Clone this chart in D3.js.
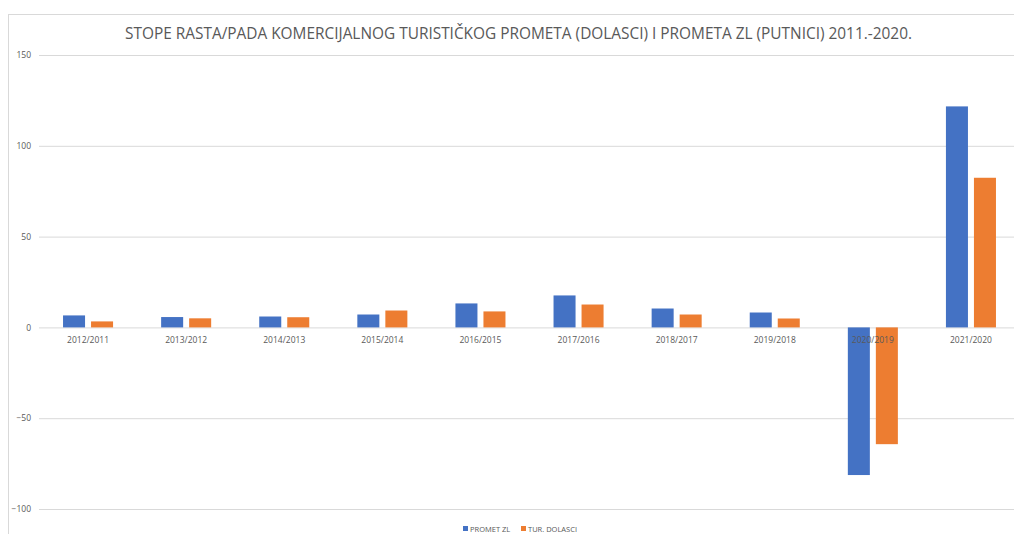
<!DOCTYPE html>
<html>
<head>
<meta charset="utf-8">
<script src="https://cdn.jsdelivr.net/npm/d3@7"></script>
<style>
  body { margin: 0; background: #fff; }
  text { font-family: "Open Sans", sans-serif; fill: #595959; }
</style>
</head>
<body>
<div id="chart"></div>
<script>
// categories and series
const categories = ['2012/2011', '2013/2012', '2014/2013', '2015/2014', '2016/2015',
                    '2017/2016', '2018/2017', '2019/2018', '2020/2019', '2021/2020'];
const prometZL = [6.6, 5.7, 6.0, 7.1, 13.2, 17.6, 10.4, 8.2, -81.3, 121.7];
const turDolasci = [3.3, 5.0, 5.6, 9.3, 8.8, 12.6, 7.1, 4.9, -64.3, 82.4];
const seriesNames = ['PROMET ZL', 'TUR. DOLASCI'];
const yTicks = [-100, -50, 0, 50, 100, 150];

const width = 1014;
const height = 534;
const colors = ['#4472C4', '#ED7D31'];

const svg = d3.select('#chart')
    .append('svg')
    .attr('width', width)
    .attr('height', height);

// chart frame (cut off on the right and bottom)
svg.append('rect')
    .attr('x', 8.5).attr('y', 14.5)
    .attr('width', 1020).attr('height', 540)
    .attr('fill', 'none')
    .attr('stroke', '#d9d9d9');

svg.append('text')
    .attr('x', 518.5).attr('y', 39)
    .attr('text-anchor', 'middle')
    .attr('font-size', 17)
    .attr('textLength', 787)
    .attr('lengthAdjust', 'spacingAndGlyphs')
    .text('STOPE RASTA/PADA KOMERCIJALNOG TURISTIČKOG PROMETA (DOLASCI) I PROMETA ZL (PUTNICI) 2011.-2020.');

const y = d3.scaleLinear()
    .domain([-100, 150])
    .range([509, 55]);

const x0 = d3.scaleBand()
    .domain(categories)
    .range([39, 1020])
    .paddingInner(0.49)
    .paddingOuter(0.245);

const x1 = d3.scaleBand()
    .domain(seriesNames)
    .range([0, x0.bandwidth()])
    .paddingInner(0.214);

// gridlines + y labels
const yAxis = g => g
    .attr('transform', 'translate(39,0)')
    .call(d3.axisLeft(y).tickValues(yTicks).tickSize(-990).tickPadding(8))
    .call(g => g.select('.domain').remove())
    .call(g => g.selectAll('.tick line').attr('stroke', '#d9d9d9'))
    .call(g => g.selectAll('.tick text')
        .attr('font-size', 8.5)
        .attr('font-family', '"Open Sans", sans-serif')
        .attr('fill', '#595959'));

svg.append('g').call(yAxis);

const rows = categories.map((c, i) => ({ cat: c, values: [prometZL[i], turDolasci[i]] }));

svg.append('g')
    .selectAll('g')
    .data(rows)
    .join('g')
    .attr('transform', d => `translate(${x0(d.cat)},0)`)
    .selectAll('rect')
    .data(d => d.values.map((v, j) => ({ key: seriesNames[j], value: v, j })))
    .join('rect')
    .attr('x', d => x1(d.key))
    .attr('width', x1.bandwidth())
    .attr('y', d => y(Math.max(0, d.value)))
    .attr('height', d => Math.abs(y(d.value) - y(0)))
    .attr('fill', d => colors[d.j]);

// category labels at the zero line
svg.append('g')
    .selectAll('text')
    .data(categories)
    .join('text')
    .attr('x', d => x0(d) + x0.bandwidth() / 2)
    .attr('y', y(0) + 15.5)
    .attr('text-anchor', 'middle')
    .attr('font-size', 8.5)
    .text(d => d);

// legend
const legendX = [463, 521];
const legend = svg.append('g')
    .selectAll('g')
    .data(seriesNames)
    .join('g')
    .attr('transform', (d, i) => `translate(${legendX[i]},526)`);

legend.append('rect')
    .attr('width', 5).attr('height', 5)
    .attr('fill', (d, i) => colors[i]);

legend.append('text')
    .attr('x', 7).attr('y', 5.5)
    .attr('font-size', 7.5)
    .text(d => d);
</script>
</body>
</html>
